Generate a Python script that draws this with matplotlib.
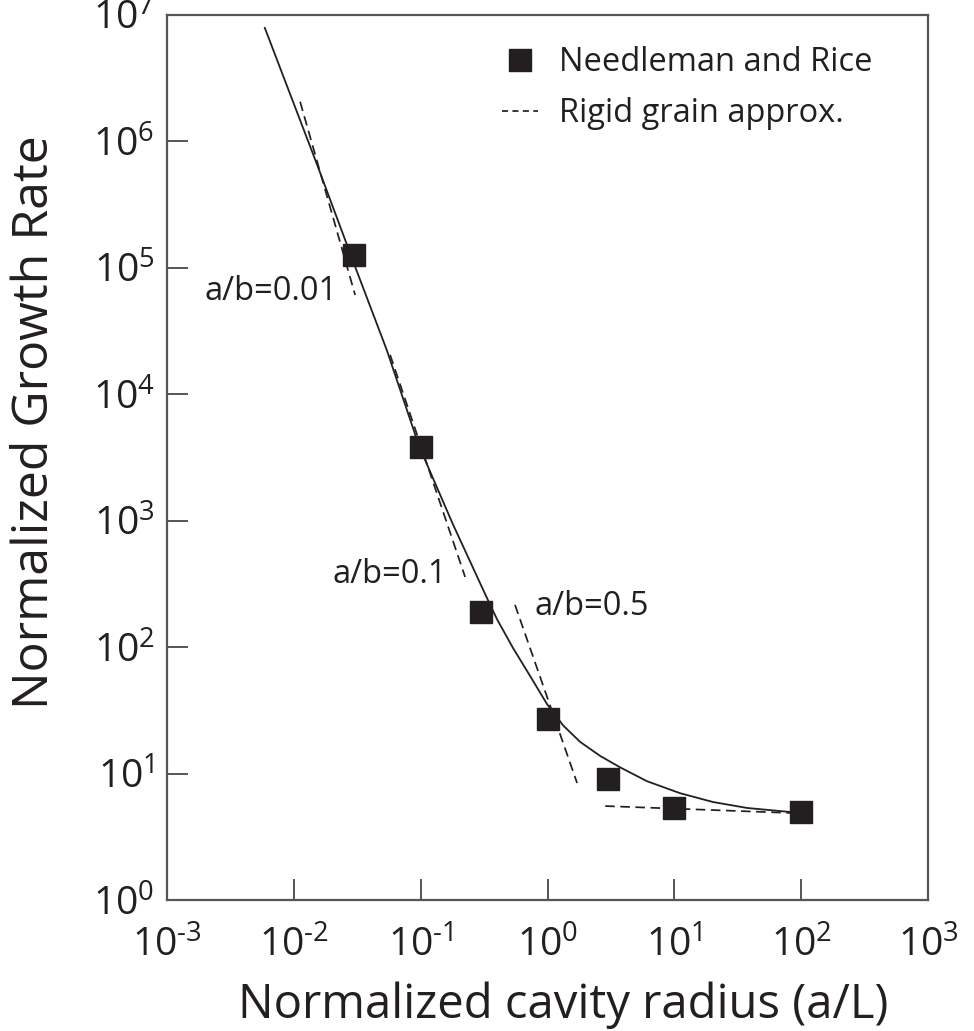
import matplotlib
matplotlib.use("Agg")
import matplotlib.pyplot as plt
from matplotlib.lines import Line2D

plt.rcParams["font.family"] = "Open Sans"
plt.rcParams["mathtext.fontset"] = "custom"
plt.rcParams["mathtext.rm"] = "Open Sans"
plt.rcParams["mathtext.it"] = "Open Sans:italic"
plt.rcParams["mathtext.bf"] = "Open Sans:bold"

# Needleman and Rice points
nr_x = [0.03, 0.1, 0.3, 1, 3, 10, 100]
nr_y = [1.27e5, 3.8e3, 190, 27, 9.0, 5.3, 4.95]

# solid curve
curve_x = [0.0059, 0.0152, 0.0315, 0.054, 0.097, 0.178, 0.322, 0.40, 0.536, 0.73,
           0.99, 1.33, 1.81, 2.6, 3.74, 6.1, 11.1, 20.2, 37.5, 82]
curve_y = [7.9e6, 6.6e5, 9.3e4, 2.24e4, 3.9e3, 955, 263, 166, 98, 59,
           35.5, 24, 17.8, 13.8, 11.2, 8.7, 7.0, 5.96, 5.35, 4.97]

# rigid grain approximation segments (start, end)
rigid_x = [[0.0112, 0.0304], [0.0574, 0.224], [0.554, 1.71], [2.85, 85]]
rigid_y = [[2.06e6, 6.1e4], [2.05e4, 359], [216, 8.43], [5.54, 4.88]]

ab_labels = ["a/b=0.01", "a/b=0.1", "a/b=0.5"]
ab_x = [0.0066, 0.0574, 2.25]
ab_y = [6.5e4, 379, 208]

x_ticks = [1e-3, 1e-2, 1e-1, 1e0, 1e1, 1e2, 1e3]
x_exps = ["-3", "-2", "-1", "0", "1", "2", "3"]
y_ticks = [1e0, 1e1, 1e2, 1e3, 1e4, 1e5, 1e6, 1e7]
y_exps = ["0", "1", "2", "3", "4", "5", "6", "7"]


def pow_label(e):
    e = e.replace("-", r"\text{-}")
    return r"$\mathdefault{10^{%s}}$" % e


ink = "#231f20"
frame = "#555555"

fig = plt.figure(figsize=(9.74, 10.31), dpi=100)
ax = fig.add_axes([0.1715, 0.127, 0.7813, 0.8585])

ax.plot(curve_x, curve_y, color=ink, lw=1.3, zorder=2)
for xs, ys in zip(rigid_x, rigid_y):
    ax.plot(xs, ys, color=ink, lw=1.25, dashes=(5.5, 3.2), zorder=2)
ax.plot(nr_x, nr_y, ls="none", marker="s", ms=16.5, color=ink, zorder=3)

for txt, tx, ty in zip(ab_labels, ab_x, ab_y):
    ax.text(tx, ty, txt, fontsize=23.5, color=ink, ha="center", va="center")

ax.set_xscale("log")
ax.set_yscale("log")
ax.set_xlim(1e-3, 1e3)
ax.set_ylim(1e0, 1e7)
ax.set_xticks(x_ticks)
ax.set_xticklabels([pow_label(e) for e in x_exps])
ax.set_yticks(y_ticks)
ax.set_yticklabels([pow_label(e) for e in y_exps])
ax.minorticks_off()
ax.tick_params(direction="in", length=15, width=1.4, color=frame, labelsize=28,
               labelcolor=ink, top=False, right=False)
ax.tick_params(axis="x", pad=19)
ax.tick_params(axis="y", pad=9)
for sp in ax.spines.values():
    sp.set_color(frame)
    sp.set_linewidth(1.6)

ax.set_xlabel("Normalized cavity radius (a/L)", fontsize=34, color=ink)
ax.set_ylabel("Normalized Growth Rate", fontsize=36, color=ink)
ax.xaxis.set_label_coords(0.52, -0.119)
ax.xaxis.label.set_verticalalignment("center")
ax.yaxis.set_label_coords(-0.173, 0.54)
ax.yaxis.label.set_verticalalignment("center")

handles = [Line2D([], [], ls="none", marker="s", ms=16.5, color=ink),
           Line2D([], [], color=ink, lw=1.25, dashes=(3.5, 2.5))]
ax.legend(handles, ["Needleman and Rice", "Rigid grain approx."], loc="upper left",
          bbox_to_anchor=(0.419, 0.983), frameon=False, fontsize=23.5, borderpad=0,
          handlelength=1.1, handletextpad=0.65, labelspacing=0.55, labelcolor=ink)

fig.savefig("out.png", dpi=100)
